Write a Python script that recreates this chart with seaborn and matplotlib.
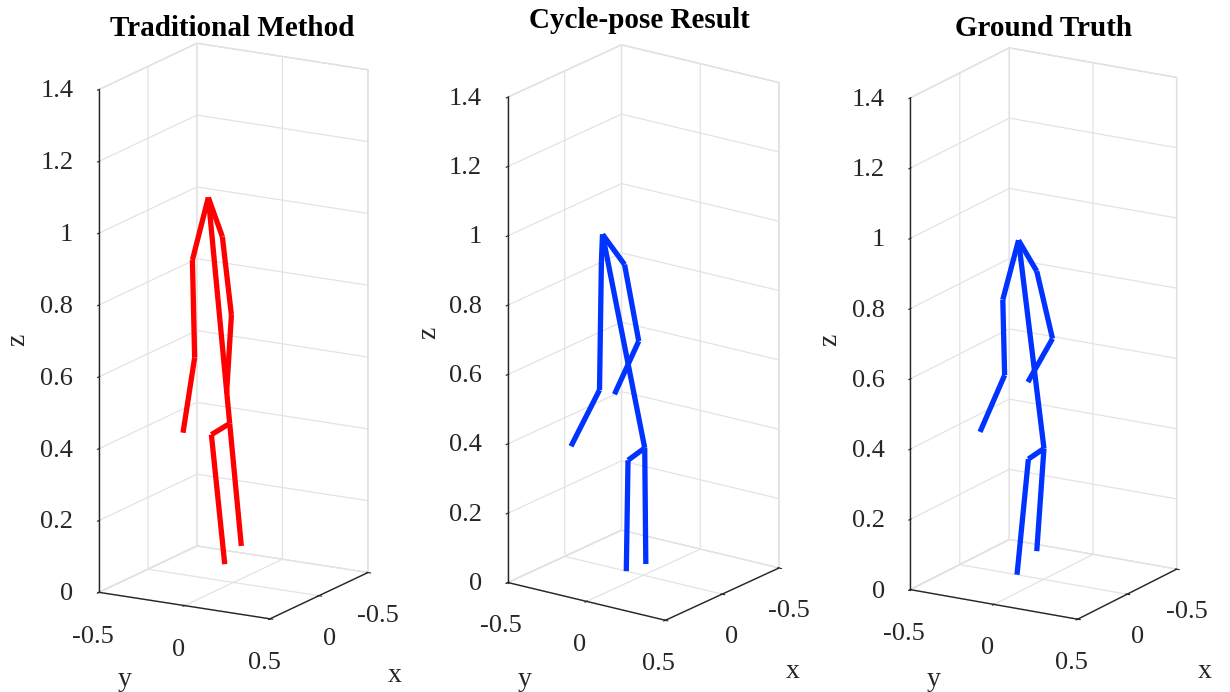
import numpy as np
import matplotlib
matplotlib.use('Agg')
import matplotlib.pyplot as plt
import seaborn as sns

# Estilo general (MATLAB-like: fondo blanco, rejilla gris claro)
sns.set_style('white')
plt.rcParams['font.family'] = ['Liberation Serif', 'DejaVu Serif']
plt.rcParams['axes.unicode_minus'] = False

# Articulaciones: cuello, hombro/codo/muñeca izq., hombro/codo/muñeca der.,
# pelvis, cadera izq., pie izq., pie der.
titles = ['Traditional Method', 'Cycle-pose Result', 'Ground Truth']
colors = ['#FF0000', '#0033FF', '#0033FF']

trad_x = [0.0] * 11
trad_y = [-0.147, -0.240, -0.227, -0.295, -0.065, -0.012, -0.040, -0.022, -0.129, -0.051, 0.046]
trad_z = [1.061, 0.880, 0.609, 0.395, 0.958, 0.744, 0.525, 0.441, 0.402, 0.047, 0.105]

cycle_x = [0.0] * 11
cycle_y = [-0.260, -0.267, -0.279, -0.460, -0.120, -0.030, -0.184, 0.008, -0.098, -0.109, 0.015]
cycle_z = [0.955, 0.877, 0.504, 0.322, 0.883, 0.672, 0.502, 0.368, 0.321, 0.000, 0.034]

gt_x = [0.0] * 11
gt_y = [-0.149, -0.243, -0.232, -0.379, -0.040, 0.054, -0.093, 0.003, -0.090, -0.158, -0.040]
gt_z = [0.953, 0.776, 0.562, 0.388, 0.874, 0.690, 0.554, 0.373, 0.335, 0.000, 0.077]

bones = [(0, 1), (1, 2), (2, 3), (0, 4), (4, 5), (5, 6),
         (0, 7), (7, 8), (8, 9), (7, 10)]

# vista de cada panel (azimut, elevación) y zoom
views = [(29.8, 15.7), (35.8, 19.4), (30.6, 17.4)]
zooms = [0.821, 0.809, 0.81]

xy_ticks = [-0.5, 0, 0.5]
y_labels = ['-0.5', '0', '0.5']
x_labels = ['-0.5', '0', '']   # el 0.5 de x queda tapado por el de y
z_ticks = [0, 0.2, 0.4, 0.6, 0.8, 1.0, 1.2, 1.4]
z_labels = ['0', '0.2', '0.4', '0.6', '0.8', '1', '1.2', '1.4']

poses = [(trad_x, trad_y, trad_z), (cycle_x, cycle_y, cycle_z), (gt_x, gt_y, gt_z)]

# posiciones en pixeles (figura 1230x692)
W, H = 1230, 692
centers = [(224, 340.5), (634, 342), (1034, 343)]
title_pos = [(232, 36), (639, 28), (1044, 36)]
xlab_pos = [(395, 675), (793, 672), (1205, 672)]
ylab_pos = [(125, 680), (525, 680), (934, 680)]
zlab_pos = [(18, 340), (429, 333), (830, 340)]
side = 700

fig = plt.figure(figsize=(12.3, 6.92), dpi=100)

for i in range(3):
    cx, cy = centers[i]
    rect = [(cx - side / 2) / W, 1 - (cy + side / 2) / H, side / W, side / H]
    ax = fig.add_axes(rect, projection='3d')
    ax.set_facecolor('none')
    ax.set_proj_type('ortho')
    ax.set_box_aspect((1, 1, 2.65), zoom=zooms[i])
    ax.view_init(elev=views[i][1], azim=views[i][0])

    px, py, pz = poses[i]
    for a, b in bones:
        ax.plot([px[a], px[b]], [py[a], py[b]], [pz[a], pz[b]],
                color=colors[i], linewidth=3.8, solid_capstyle='butt')

    ax.set_xlim(-0.5, 0.5)
    ax.set_ylim(-0.5, 0.5)
    ax.set_zlim(0, 1.4)
    ax.set_xticks(xy_ticks)
    ax.set_xticklabels(x_labels)
    ax.set_yticks(xy_ticks)
    ax.set_yticklabels(y_labels)
    ax.set_zticks(z_ticks)
    ax.set_zticklabels(z_labels)
    ax.tick_params(labelsize=19, colors='#262626')
    ax.xaxis.set_tick_params(pad=8)
    ax.yaxis.set_tick_params(pad=8)
    ax.zaxis.set_tick_params(pad=17)
    for t in ax.get_zticklabels():
        t.set_verticalalignment('center')
        t.set_horizontalalignment('right')

    for axis in (ax.xaxis, ax.yaxis, ax.zaxis):
        axis.set_pane_color((1, 1, 1, 1))
        axis.pane.set_edgecolor('#d9d9d9')
        axis._axinfo['grid'].update(color='#e3e3e3', linewidth=0.9)
        axis.line.set_color('#262626')
        axis.line.set_linewidth(1.0)

    fig.text(title_pos[i][0] / W, 1 - title_pos[i][1] / H, titles[i],
             fontsize=21, fontweight='bold', ha='center', va='baseline', color='black')
    fig.text(xlab_pos[i][0] / W, 1 - xlab_pos[i][1] / H, 'x',
             fontsize=20, ha='center', va='center', color='#262626')
    fig.text(ylab_pos[i][0] / W, 1 - ylab_pos[i][1] / H, 'y',
             fontsize=20, ha='center', va='center', color='#262626')
    fig.text(zlab_pos[i][0] / W, 1 - zlab_pos[i][1] / H, 'z',
             fontsize=20, ha='center', va='center', rotation=90, color='#262626')

fig.savefig('out.png', dpi=100, facecolor='white')
